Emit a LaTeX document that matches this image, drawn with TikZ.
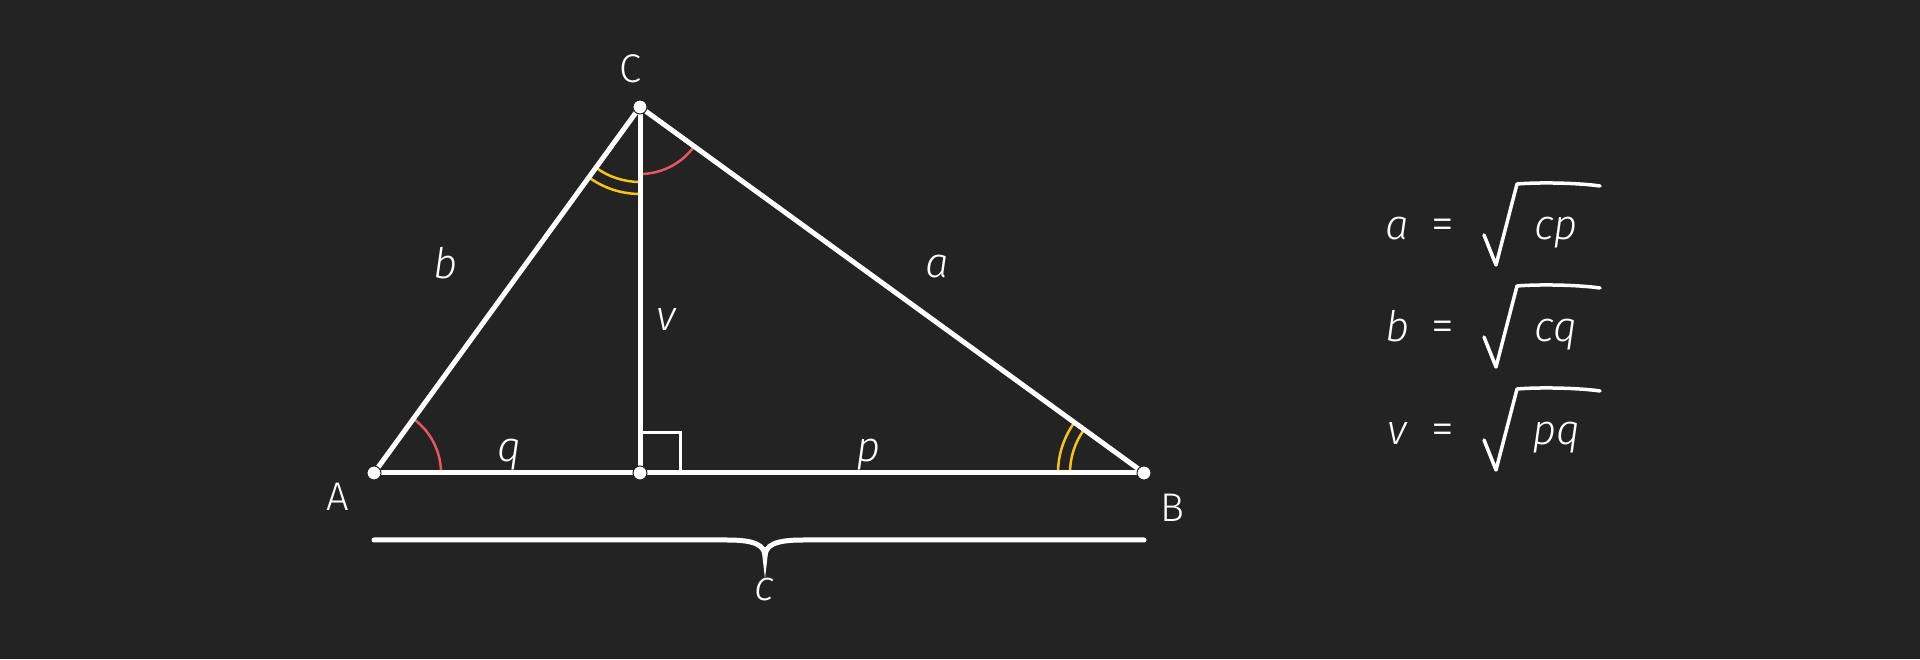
\documentclass[tikz,border=0pt]{standalone}
\usepackage{fontspec}
\setmainfont{Fira Sans}[UprightFont=* Light,ItalicFont=* Light Italic]
\usepackage{tikz}
\usetikzlibrary{calc}
\usetikzlibrary{angles}
\definecolor{board}{RGB}{35,35,35}
\definecolor{arcred}{RGB}{232,84,96}
\definecolor{arcyellow}{RGB}{246,196,24}
\tikzset{
	% Styles for the triangle: dots, sides, angle marks and labels
	vertex node/.style={circle,draw=board,line width=1pt,fill=white,inner sep=0pt,minimum size=14pt},
	side line/.style={draw=white,line width=5pt},
	red arc/.style={draw=arcred,line width=2.5pt},
	yellow arc/.style={draw=arcyellow,line width=2.5pt},
	root line/.style={draw=white,line width=3.5pt,line cap=round,line join=round},
	math label/.style={text=white,anchor=base,font=\fontsize{42}{50}\selectfont\itshape},
	point label/.style={text=white,anchor=base,font=\fontsize{40}{48}\selectfont}
}

\begin{document}
\begin{tikzpicture}[x=1pt,y=1pt]
			% background, fixes the size
			\fill[board] (0,0) rectangle (1920,659);
			\useasboundingbox (0,0) rectangle (1920,659);
			% macro for one equation row: name, left side, radicand, baseline
			\newcommand{\eqrow}[4]{
				\node(lhs-#1)[math label] at (1397,#4){#2};
				\node(eq-#1)[point label,font=\fontsize{46}{50}\selectfont] at (1443,#4){=};
				\node(rhs-#1)[math label] at (1556,#4){#3};
				\draw[root line] (1484,#4+5) -- (1496,#4-25) -- (1517,#4+56)
					.. controls (1540,#4+58) and (1580,#4+57) .. (1600,#4+54);
			}
			
			\coordinate (A) at (374,186);
			\coordinate (H) at (640,186);
			\coordinate (B) at (1144,186);
			\coordinate (C) at (640,552);
			
			% angle marks
			\pic[red arc,angle radius=67pt]{angle=H--A--C};
			\pic[red arc,angle radius=67pt]{angle=H--C--B};
			\pic[yellow arc,angle radius=75pt]{angle=A--C--H};
			\pic[yellow arc,angle radius=87pt]{angle=A--C--H};
			\pic[yellow arc,angle radius=74pt]{angle=C--B--A};
			\pic[yellow arc,angle radius=86pt]{angle=C--B--A};
			
			% sides and altitude
			\draw[side line] (A) -- (B);
			\draw[side line] (A) -- (C) -- (B);
			\draw[side line] (C) -- (H);
			\draw[white,line width=3pt] ($(H)+(0,40)$) -- ++(40,0) -- ($(H)+(40,0)$);
			
			\node(dot-A)[vertex node] at (A){};
			\node(dot-B)[vertex node] at (B){};
			\node(dot-C)[vertex node] at (C){};
			\node(dot-H)[vertex node] at (H){};
			
			% brace under c
			\coordinate (brace-l) at ($(A)+(0,-67)$);
			\coordinate (brace-r) at ($(B)+(0,-67)$);
			\coordinate (brace-tip) at (765,102);
			\draw[white,line width=5pt,line cap=round] (brace-l) -- (727,119)
				.. controls (755,119) and (765,114) .. (brace-tip)
				.. controls (765,114) and (775,119) .. (803,119) -- (brace-r);
			
			\node(label-C)[point label] at (630,576){C};
			\node(label-A)[point label] at (338,148){A};
			\node(label-B)[point label] at (1172,137){B};
			\node(label-b)[math label] at (446,380){b};
			\node(label-a)[math label] at (937,381){a};
			\node(label-v)[math label] at (666,328){v};
			\node(label-q)[math label] at (509,197){q};
			\node(label-p)[math label] at (868,197){p};
			\node(label-c)[math label] at (764,59){c};
			
			\eqrow{a}{a}{cp}{419}
			\eqrow{b}{b}{cq}{317}
			\eqrow{v}{v}{pq}{214}
		\end{tikzpicture}
\end{document}
